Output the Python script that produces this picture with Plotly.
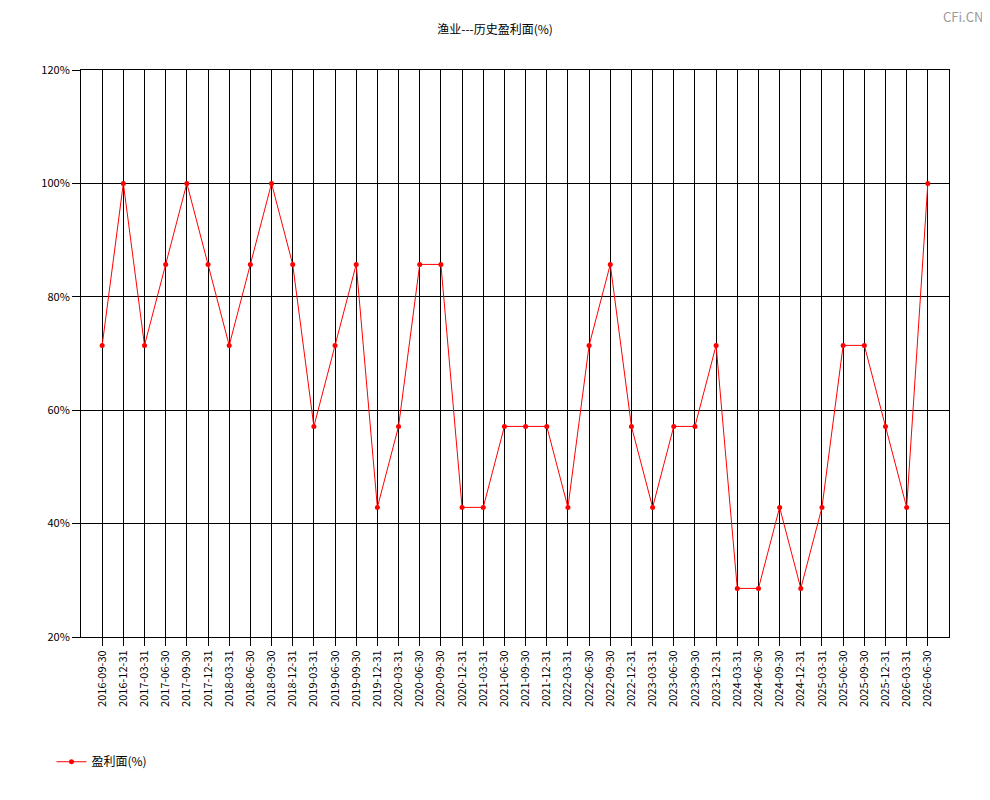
import plotly.graph_objects as go

# quarter-end report dates
dates = ['2016-09-30', '2016-12-31', '2017-03-31', '2017-06-30', '2017-09-30', '2017-12-31',
         '2018-03-31', '2018-06-30', '2018-09-30', '2018-12-31', '2019-03-31', '2019-06-30',
         '2019-09-30', '2019-12-31', '2020-03-31', '2020-06-30', '2020-09-30', '2020-12-31',
         '2021-03-31', '2021-06-30', '2021-09-30', '2021-12-31', '2022-03-31', '2022-06-30',
         '2022-09-30', '2022-12-31', '2023-03-31', '2023-06-30', '2023-09-30', '2023-12-31',
         '2024-03-31', '2024-06-30', '2024-09-30', '2024-12-31', '2025-03-31', '2025-06-30',
         '2025-09-30', '2025-12-31', '2026-03-31', '2026-06-30']

# profit share (%)
profit_pct = [71.43, 100, 71.43, 85.71, 100, 85.71,
              71.43, 85.71, 100, 85.71, 57.14, 71.43,
              85.71, 42.86, 57.14, 85.71, 85.71, 42.86,
              42.86, 57.14, 57.14, 57.14, 42.86, 71.43,
              85.71, 57.14, 42.86, 57.14, 57.14, 71.43,
              28.57, 28.57, 42.86, 28.57, 42.86, 71.43,
              71.43, 57.14, 42.86, 100]

font_family = 'Noto Sans CJK SC, DejaVu Sans, sans-serif'

fig = go.Figure()
fig.add_trace(go.Scatter(x=dates, y=profit_pct, mode='lines+markers', name='盈利面(%)',
                         line=dict(color='#ff0000', width=1),
                         marker=dict(color='#ff0000', size=5)))

# page has ~8px body margin, margins compensate for it
fig.update_layout(
    width=990, height=800,
    paper_bgcolor='white', plot_bgcolor='white',
    margin=dict(l=73, r=49, t=62, b=171),
    font=dict(family=font_family, size=11, color='black'),
    title=dict(text='渔业---历史盈利面(%)', x=0.492, xref='container', xanchor='center',
               y=0.9725, yanchor='middle', font=dict(size=12, color='black')),
    showlegend=True,
    legend=dict(orientation='h', x=-0.034, xanchor='left', y=-0.22, yanchor='middle',
                font=dict(size=12), bgcolor='rgba(0,0,0,0)'),
    annotations=[dict(text='CFi.CN', xref='paper', yref='paper', x=1.041, y=1.094,
                      xanchor='right', yanchor='middle', showarrow=False,
                      font=dict(size=13, color='#999999'))],
)

fig.update_xaxes(type='category', range=[-1, 40], tickangle=-90,
                 showgrid=True, gridcolor='black', gridwidth=1,
                 showline=True, linecolor='black', linewidth=1, mirror=True,
                 ticks='outside', ticklen=8, tickcolor='black',
                 tickfont=dict(size=11), zeroline=False)
fig.update_yaxes(range=[20, 120], dtick=20, ticksuffix='%',
                 showgrid=True, gridcolor='black', gridwidth=1,
                 showline=True, linecolor='black', linewidth=1, mirror=True,
                 ticks='outside', ticklen=8, tickcolor='black',
                 tickfont=dict(size=11), zeroline=False)

fig.write_html('out.html')
